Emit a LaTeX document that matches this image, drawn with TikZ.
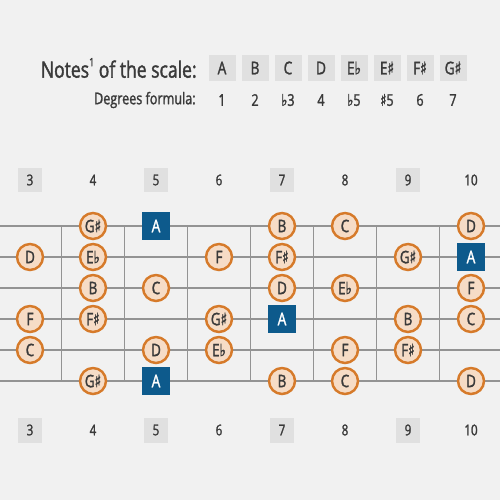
\documentclass[tikz,border=0pt]{standalone}
\usepackage{fontspec}
\setmainfont{Open Sans}[FakeStretch=0.78,FakeBold=1.6]
\newfontfamily\symfont{DejaVu Sans}[FakeStretch=0.78,FakeBold=1.6]
\newcommand{\fl}{{\symfont ♭}}
\newcommand{\sh}{{\symfont ♯}}
\usetikzlibrary{positioning}
\definecolor{paper}{HTML}{F1F1F1}
\definecolor{greybox}{HTML}{E0E0E0}
\definecolor{rootblue}{HTML}{0D5A8C}
\definecolor{ringorange}{HTML}{D67A2A}
\definecolor{notefill}{HTML}{F6DCC6}
\definecolor{inkgrey}{HTML}{3A3A3A}
\definecolor{wire}{HTML}{939393}

\begin{document}
\begin{tikzpicture}[x=0.02cm,y=-0.02cm,
  note/.style={circle,draw=ringorange,line width=1.4pt,fill=notefill,minimum size=5.2mm,inner sep=0pt,
    text=inkgrey,font=\fontsize{9.8}{10}\selectfont},
  root/.style={fill=rootblue,minimum size=5.5mm,inner sep=0pt,text=white,font=\fontsize{10}{10}\selectfont},
  fretnum/.style={minimum width=4.8mm,minimum height=5mm,inner sep=0pt,text=inkgrey,font=\fontsize{8.5}{9}\selectfont},
  hdrbox/.style={fill=greybox,minimum width=5.4mm,minimum height=5.2mm,inner sep=0pt,text=inkgrey,font=\fontsize{10}{10}\selectfont}]
  \useasboundingbox[fill=paper] (0,0) rectangle (500,500);
  \def\cx#1{30+63*(#1-3)}
  % header
  \node[anchor=east,inner sep=0pt,text=inkgrey,font=\fontsize{12.8}{14}\selectfont] (title) at (197,68)
    {Notes\raisebox{0.95ex}{\fontsize{6.5}{7}\selectfont 1} of the scale:};
  \foreach \i/\n in {0/A,1/B,2/C,3/D,4/E\fl,5/E\sh,6/F\sh,7/G\sh}
    \node[hdrbox] (sc\i) at ({222+33*\i},68) {\n};
  \node[anchor=east,inner sep=0pt,text=inkgrey,font=\fontsize{9.2}{10}\selectfont] (deg) at (196,100) {Degrees formula:};
  \foreach \i/\d in {0/1,1/2,2/\fl3,3/4,4/\fl5,5/\sh5,6/6,7/7}
    \node[text=inkgrey,font=\fontsize{9.2}{10}\selectfont] (dg\i) at ({222+33*\i},100) {\d};
  % strings and frets
  \foreach \s in {1,...,6} \draw[wire,line width=1pt] (0,{195+31*\s}) -- (500,{195+31*\s});
  \foreach \k in {4,...,10} \draw[wire,line width=0.6pt] ({\cx{\k}-31.5},226) -- ({\cx{\k}-31.5},381);
  % fret numbers
  \foreach \k/\bg in {3/greybox,4/none,5/greybox,6/none,7/greybox,8/none,9/greybox,10/none} {
    \node[fretnum,fill=\bg] (top\k) at ({\cx{\k}},180) {\k};
    \node[fretnum,fill=\bg] (bot\k) at ({\cx{\k}},430) {\k};
  }
  % scale notes
  \foreach \s/\k/\n in {1/4/G\sh,1/7/B,1/8/C,1/10/D,
      2/3/D,2/4/E\fl,2/6/F,2/7/F\sh,2/9/G\sh,
      3/4/B,3/5/C,3/7/D,3/8/E\fl,3/10/F,
      4/3/F,4/4/F\sh,4/6/G\sh,4/9/B,4/10/C,
      5/3/C,5/5/D,5/6/E\fl,5/8/F,5/9/F\sh,
      6/4/G\sh,6/7/B,6/8/C,6/10/D}
    \node[note] (n\s-\k) at ({\cx{\k}},{195+31*\s}) {\n};
  % roots
  \foreach \s/\k in {1/5,2/10,4/7,6/5}
    \node[root] (r\s-\k) at ({\cx{\k}},{195+31*\s}) {A};
\end{tikzpicture}
\end{document}
